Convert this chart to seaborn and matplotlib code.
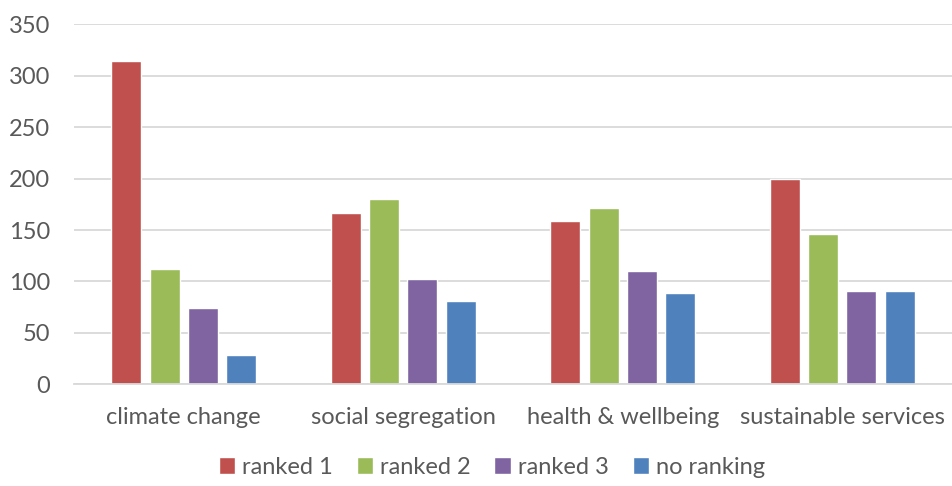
import matplotlib
matplotlib.use("Agg")
import matplotlib.pyplot as plt
import seaborn as sns
import pandas as pd

categories = ["climate change", "social segregation", "health & wellbeing", "sustainable services"]
series_names = ["ranked 1", "ranked 2", "ranked 3", "no ranking"]
ranked_1 = [314, 167, 159, 200]
ranked_2 = [112, 180, 171, 146]
ranked_3 = [74, 102, 110, 91]
no_ranking = [28, 81, 89, 91]
colors = ["#C0504D", "#9BBB59", "#8064A2", "#4F81BD"]
yticks = [0, 50, 100, 150, 200, 250, 300, 350]

rows = []
for name, vals in zip(series_names, [ranked_1, ranked_2, ranked_3, no_ranking]):
    for c, v in zip(categories, vals):
        rows.append({"category": c, "series": name, "value": v})
df = pd.DataFrame(rows)

sns.set_style("white")
plt.rcParams["font.family"] = ["Lato", "DejaVu Sans"]

fig = plt.figure(figsize=(9.52, 4.86), dpi=100)
ax = fig.add_axes([74/952, 1 - 384.3/486, (952-74)/952, (384.3-24.3)/486])

sns.barplot(data=df, x="category", y="value", hue="series", order=categories,
            hue_order=series_names, palette=colors, width=0.7, gap=0.22,
            saturation=1, ax=ax, legend=True)

ax.set_ylim(0, 350)
ax.set_xlim(-0.5, 3.5)
ax.set_yticks(yticks)
ax.yaxis.grid(True, color="#D9D9D9", linewidth=1.3)
ax.set_axisbelow(True)
for s in ["top", "right", "left"]:
    ax.spines[s].set_visible(False)
ax.spines["bottom"].set_color("#D9D9D9")
ax.spines["bottom"].set_linewidth(1.3)
ax.tick_params(axis="both", length=0, labelsize=17, colors="#595959")
ax.tick_params(axis="x", pad=16)
ax.tick_params(axis="y", pad=17)
ax.set_xlabel("")
ax.set_ylabel("")

handles, labels = ax.get_legend_handles_labels()
ax.legend_.remove()
fig.legend(handles, labels, loc="center", bbox_to_anchor=(492/952, 1 - 467/486),
           ncol=4, frameon=False, fontsize=17, handlelength=0.7, handleheight=0.7,
           handletextpad=0.3, columnspacing=1.0, labelcolor="#595959")

fig.savefig("out.png", dpi=100, facecolor="white")
